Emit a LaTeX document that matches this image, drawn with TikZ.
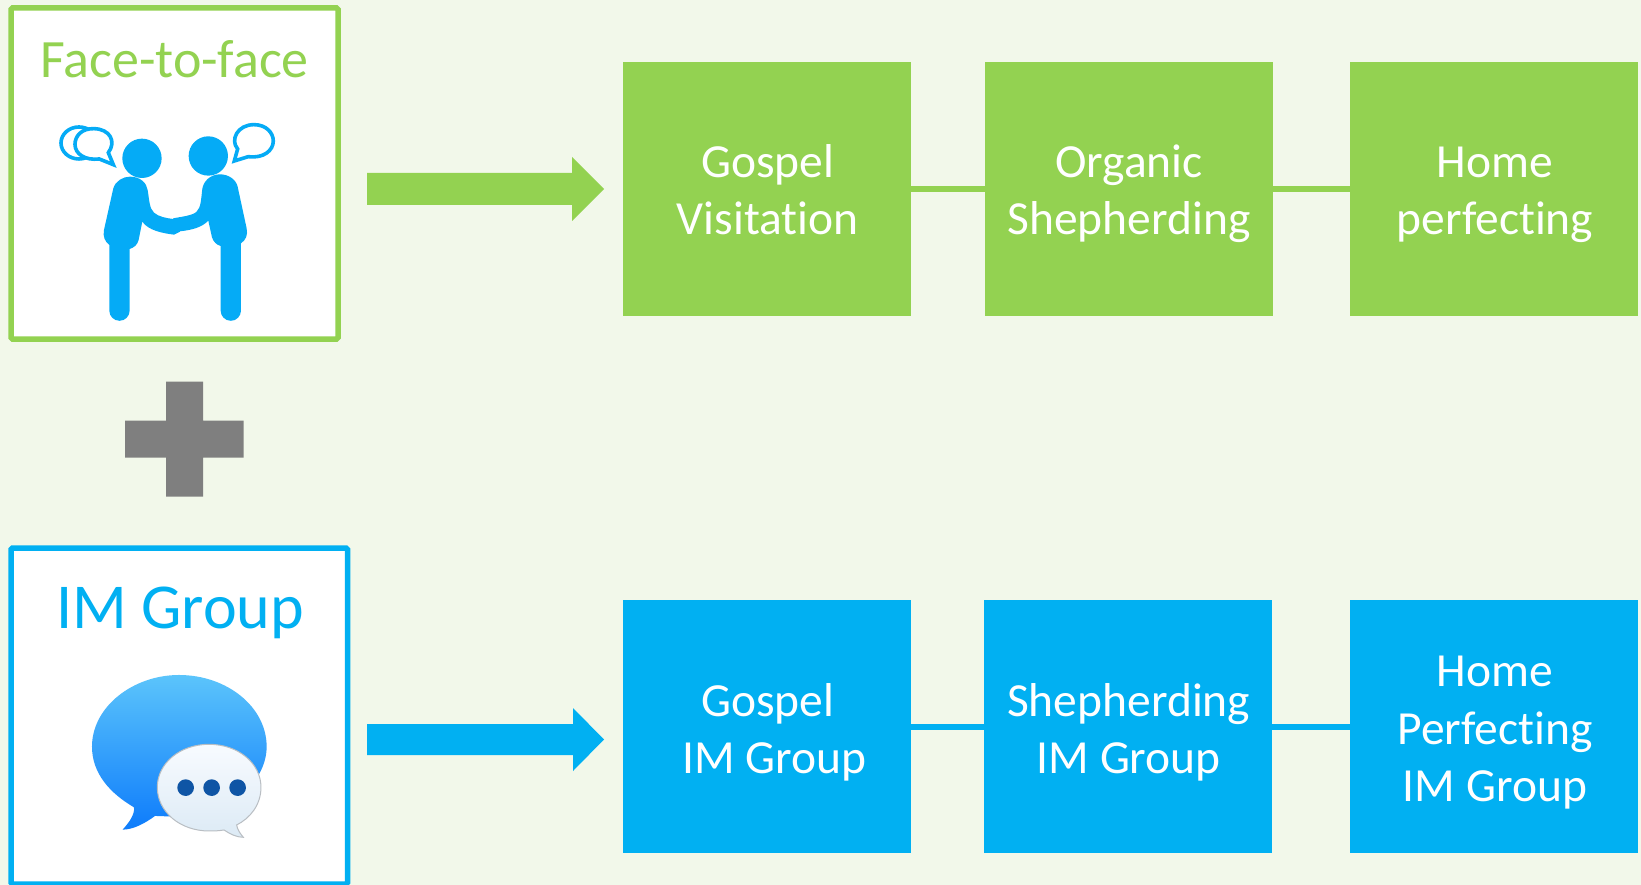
\documentclass[tikz,border=0pt]{standalone}
\usepackage{fontspec}
\setmainfont{Carlito}[RawFeature=-liga]
\definecolor{bgc}{HTML}{F2F8EA}
\definecolor{gc}{HTML}{93D251}
\definecolor{bc}{HTML}{01B0F2}
\definecolor{pc}{HTML}{05ABF6}
\definecolor{plusc}{HTML}{7F7F7F}
\definecolor{msgtop}{RGB}{91,196,251}
\definecolor{msgbot}{RGB}{14,124,251}
\definecolor{wtop}{RGB}{248,251,255}
\definecolor{wbot}{RGB}{220,234,245}
\definecolor{wedge}{RGB}{185,190,195}
\definecolor{dotc}{RGB}{15,85,165}
\tikzset{
  gbox/.style={fill=gc,minimum width=288pt,minimum height=254pt,inner sep=0pt,outer sep=0pt},
  bbox/.style={fill=bc,minimum width=288pt,minimum height=253pt,inner sep=0pt,outer sep=0pt},
  boxtext/.style={text=white,align=center,inner sep=0pt,font=\fontsize{47.5}{57.5}\selectfont},
  gline/.style={draw=gc,line width=6pt},
  bline/.style={draw=bc,line width=6pt},
  frame/.style={draw=#1,fill=white,line width=5.5pt,rounded corners=1.5pt},
  person/.style={fill=pc},
  bubble/.style={draw=pc,fill=white,line width=3.6pt,line join=miter}
}
\begin{document}
\begin{tikzpicture}[x=1pt,y=-1pt]
\path[use as bounding box,fill=bgc] (0,0) rectangle (1641,885);
% frames
\draw[frame=gc] (11,8) rectangle (338,339);
\draw[frame=bc] (11,548) rectangle (347.5,884);
\node[text=gc,inner sep=0pt,anchor=base,font=\fontsize{54}{60}\selectfont] (ftitle) at (174.5,78) {Face-to-face};
\node[text=bc,inner sep=0pt,anchor=base,font=\fontsize{64}{70}\selectfont] (ititle) at (180,628) {IM Group};
% people icon
\begin{scope}[x=0.3333pt,y=-0.3333pt]
\fill[person] (426,475) circle [radius=59];
\fill[person] (625,468) circle [radius=59];
\fill[person] (340,565) .. controls (347,542) and (370,530) .. (390,530)
  .. controls (420,530) and (440,548) .. (443,570)
  .. controls (448,600) and (448,625) .. (462,638)
  .. controls (475,650) and (500,655) .. (520,657)
  -- (540,668) -- (540,695) -- (522,704)
  .. controls (490,700) and (445,692) .. (427,665)
  -- (416,720) .. controls (412,735) and (402,743) .. (389,747)
  -- (389,932) arc [start angle=0,end angle=180,radius=30.5]
  -- (328,735) .. controls (315,725) and (308,710) .. (312,690) -- cycle;
\fill[person] (713,560) .. controls (708,538) and (685,523) .. (660,523)
  .. controls (630,523) and (610,545) .. (607,567)
  .. controls (603,600) and (603,622) .. (590,635)
  .. controls (578,647) and (545,650) .. (520,655)
  -- (515,675) -- (540,694)
  .. controls (575,690) and (605,683) .. (625,662)
  -- (636,712) .. controls (640,725) and (650,735) .. (662,738)
  -- (662,932) arc [start angle=180,end angle=0,radius=30.5]
  -- (723,730) .. controls (738,720) and (744,705) .. (740,685) -- cycle;
\draw[bubble] (237,429) ellipse [x radius=54,y radius=48];
\draw[bubble] (340,494) -- (325,458) .. controls (350,425) and (330,387) .. (282,386)
  .. controls (245,385) and (225,408) .. (225,433)
  .. controls (225,462) and (255,482) .. (298,477) -- cycle;
\draw[bubble] (703,483) -- (713,447) .. controls (690,420) and (712,374) .. (762,374)
  .. controls (798,374) and (820,398) .. (820,423)
  .. controls (820,452) and (790,476) .. (745,470) -- cycle;
\end{scope}
% message icon
\begin{scope}[shift={(0,530)},x=0.3333pt,y=-0.3333pt]
\shade[top color=msgtop,bottom color=msgbot]
  (537,435) .. controls (680,435) and (800,530) .. (800,650)
  .. controls (800,760) and (680,860) .. (537,860)
  .. controls (510,860) and (480,858) .. (465,858)
  .. controls (435,880) and (400,899) .. (368,899)
  .. controls (385,880) and (405,855) .. (402,832)
  .. controls (330,790) and (276,730) .. (276,650)
  .. controls (276,530) and (400,435) .. (537,435) -- cycle;
\shade[draw=wedge,line width=1pt,top color=wtop,bottom color=wbot]
  (627,643) .. controls (715,643) and (783,700) .. (783,772)
  .. controls (783,825) and (750,865) .. (710,885)
  .. controls (712,900) and (722,912) .. (730,922)
  .. controls (710,922) and (690,912) .. (672,900)
  .. controls (655,903) and (640,903) .. (627,903)
  .. controls (540,903) and (472,845) .. (472,772)
  .. controls (472,700) and (540,643) .. (627,643) -- cycle;
\fill[dotc] (557,773) circle [radius=25] (635,773) circle [radius=25] (713,773) circle [radius=25];
\end{scope}
% plus
\fill[plusc] (166,381.5) -- (203,381.5) -- (203,420.5) -- (243.5,420.5) -- (243.5,457.5) -- (203,457.5) -- (203,496.5) -- (166,496.5) -- (166,457.5) -- (125,457.5) -- (125,420.5) -- (166,420.5) -- cycle;
% block arrows
\fill[gc] (367,173) -- (572,173) -- (572,157) -- (604,189) -- (572,221) -- (572,205) -- (367,205) -- cycle;
\fill[bc] (367,724) -- (573,724) -- (573,708) -- (604,739.5) -- (573,771) -- (573,755) -- (367,755) -- cycle;
% boxes
\node[gbox] (g1) at (767,189) {};
\node[gbox] (g2) at (1129,189) {};
\node[gbox] (g3) at (1494,189) {};
\node[bbox] (b1) at (767,726.5) {};
\node[bbox] (b2) at (1128,726.5) {};
\node[bbox] (b3) at (1494,726.5) {};
\draw[gline] (g1) -- (g2);
\draw[gline] (g2) -- (g3);
\draw[bline] (b1) -- (b2);
\draw[bline] (b2) -- (b3);
% labels
\node[boxtext,anchor=base] (g1t) at (767.7,235) {Gospel\\Visitation};
\node[boxtext,anchor=base] (g2t) at (1129,235) {Organic\\Shepherding};
\node[boxtext,anchor=base] (g3t) at (1495,235) {Home\\perfecting};
\node[boxtext,anchor=base] (b1t) at (767.7,773.5) {Gospel\\\hspace*{13pt}IM Group};
\node[boxtext,anchor=base] (b2t) at (1128.7,773.5) {Shepherding\\IM Group};
\node[boxtext,anchor=base] (b3t) at (1495,801.5) {Home\\Perfecting\\IM Group};
\end{tikzpicture}
\end{document}
